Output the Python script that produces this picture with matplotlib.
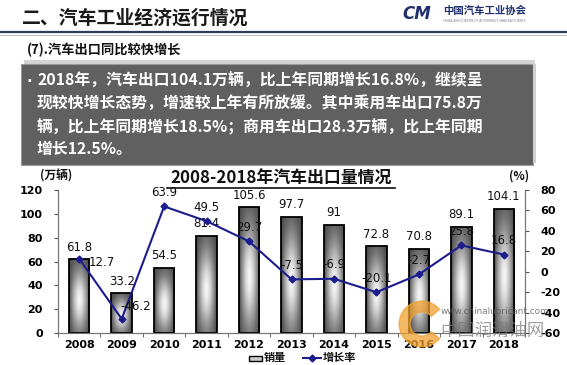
import numpy as np
import matplotlib
matplotlib.use("Agg")
import matplotlib.pyplot as plt
from matplotlib.patches import Rectangle, Wedge
from matplotlib.lines import Line2D

plt.rcParams["font.family"] = ["Noto Sans CJK SC", "DejaVu Sans"]

# ---------- DATA ----------
years = ["2008", "2009", "2010", "2011", "2012", "2013",
         "2014", "2015", "2016", "2017", "2018"]
exports = [61.8, 33.2, 54.5, 81.4, 105.6, 97.7, 91, 72.8, 70.8, 89.1, 104.1]
growth = [12.7, -46.2, 63.9, 49.5, 29.7, -7.5, -6.9, -20.1, -2.7, 25.8, 16.8]
left_ticks = [0, 20, 40, 60, 80, 100, 120]
right_ticks = [-60, -40, -20, 0, 20, 40, 60, 80]

# label offsets for the growth line (points, label centre)
growth_offsets = [(16, -3), (10, 9), (0, 10), (0, 10), (0, 10), (0, 10),
                  (0, 10), (0, 10), (0, 10), (0, 10), (0, 10)]

W, H = 567, 365


def fx(px):
    return px / W


def fy(py):
    return 1 - py / H


fig = plt.figure(figsize=(W / 100, H / 100), dpi=100)
fig.patch.set_facecolor("white")

# ---------- HEADER ----------
fig.text(fx(22), fy(18), "二、汽车工业经济运行情况", fontsize=13.6, fontweight="bold",
         color="#1a1a1a", va="center", ha="left")
fig.add_artist(Line2D([0, 1], [fy(32), fy(32)], color="#2e3d58", lw=1.6,
                      transform=fig.transFigure))
fig.add_artist(Line2D([0, 1], [fy(34.5), fy(34.5)], color="#b8c0cc", lw=0.8,
                      transform=fig.transFigure))
fig.text(fx(402), fy(14), "CM", fontsize=12, fontweight="bold", style="italic",
         color="#1f2f6e", va="center", ha="left", family="DejaVu Sans")
fig.text(fx(443), fy(11), "中国汽车工业协会", fontsize=7.5, fontweight="bold",
         color="#1f2f6e", va="center", ha="left")
fig.text(fx(443), fy(21), "CHINA ASSOCIATION OF AUTOMOBILE MANUFACTURERS",
         fontsize=2.2, color="#7a8090", va="center", ha="left", family="DejaVu Sans")

fig.text(fx(27), fy(50), "(7).汽车出口同比较快增长", fontsize=9.5, fontweight="bold",
         color="#111111", va="center", ha="left")

# ---------- TEXT BOX ----------
fig.add_artist(Rectangle((fx(24), fy(64)), fx(511), fy(60) - fy(64),
                         transform=fig.transFigure, color="#d4d4d4", lw=0))
fig.add_artist(Rectangle((fx(21), fy(165)), fx(512), fy(64) - fy(165),
                         transform=fig.transFigure, facecolor="#606060",
                         edgecolor="#9a9a9a", lw=0.8))
fig.add_artist(Rectangle((fx(533), fy(163)), fx(3), fy(64) - fy(163),
                         transform=fig.transFigure, color="#cfcfcf", lw=0))
lines = ["2018年，汽车出口104.1万辆，比上年同期增长16.8%，继续呈",
         "现较快增长态势，增速较上年有所放缓。其中乘用车出口75.8万",
         "辆，比上年同期增长18.5%；商用车出口28.3万辆，比上年同期",
         "增长12.5%。"]
line_y = [81, 104, 127, 149]
fig.text(fx(26), fy(81), "·", fontsize=11, fontweight="bold", color="white",
         va="center", ha="left", family="DejaVu Sans")
for txt, yy in zip(lines, line_y):
    fig.text(fx(37), fy(yy), txt, fontsize=11.4, fontweight="bold",
             color="white", va="center", ha="left")

# ---------- CHART ----------
ax = fig.add_axes([fx(58), fy(333), fx(525) - fx(58), fy(190) - fy(333)])
ax2 = ax.twinx()
x = np.arange(len(years))

bars = ax.bar(x, exports, width=0.48, facecolor="none", edgecolor="black",
              lw=1.3, zorder=3)

# gradient fill for bars
gx = np.linspace(0, 1, 60)
gy = np.linspace(0, 1, 120)
GX, GY = np.meshgrid(gx, gy)
hx = 1 - np.abs(2 * GX - 1) ** 1.6
vy = np.exp(-((GY - 0.45) / 0.42) ** 2)
grad = 0.28 + 0.68 * hx * vy
for b in bars:
    x0, w, h = b.get_x(), b.get_width(), b.get_height()
    im = ax.imshow(grad, cmap="gray", vmin=0, vmax=1, origin="lower",
                   extent=[x0, x0 + w, 0, h], aspect="auto", zorder=2,
                   interpolation="bilinear")
    im.set_clip_path(b)
ax.set_xlim(-0.5, len(years) - 0.5)
ax.set_ylim(0, 120)
ax2.set_ylim(-60, 80)

for xi, v in zip(x, exports):
    ax.annotate(f"{v:g}", (xi, v), xytext=(0, 4), textcoords="offset points",
                ha="center", va="bottom", fontsize=8.5, color="#111111",
                family="DejaVu Sans")

ax2.plot(x, growth, color="#1c1c8c", lw=1.5, marker="D", markersize=3.5,
         zorder=5)
for xi, v, off in zip(x, growth, growth_offsets):
    ax2.annotate(f"{v:g}", (xi, v), xytext=off, textcoords="offset points",
                 ha="center", va="center", fontsize=8.5, color="#111111",
                 family="DejaVu Sans", zorder=6)

ax.set_xticks(x)
ax.set_xticklabels(years, fontsize=8, fontweight="bold", family="DejaVu Sans")
ax.set_xticks(np.arange(-0.5, len(years), 1), minor=True)
ax.tick_params(axis="x", which="major", length=0, pad=5)
ax.tick_params(axis="x", which="minor", length=3, color="#555555")
ax.set_yticks(left_ticks)
ax.set_yticklabels([str(t) for t in left_ticks], fontsize=8, fontweight="bold",
                   family="DejaVu Sans")
ax.tick_params(axis="y", length=3, color="#555555", pad=8)
ax2.set_yticks(right_ticks)
ax2.set_yticklabels([str(t) for t in right_ticks], fontsize=8, fontweight="bold",
                    family="DejaVu Sans")
ax2.tick_params(axis="y", length=3, color="#555555", pad=8)

for a in (ax, ax2):
    a.spines["top"].set_visible(False)
    for s in ("left", "right", "bottom"):
        a.spines[s].set_color("#777777")
        a.spines[s].set_linewidth(0.8)
ax.patch.set_alpha(0)

fig.text(fx(40), fy(176), "(万辆)", fontsize=8.5, fontweight="bold",
         color="#111111", va="center", ha="left")
fig.text(fx(509), fy(176), "(%)", fontsize=8.5, fontweight="bold",
         color="#111111", va="center", ha="left")

fig.text(fx(281), fy(179), "2008-2018年汽车出口量情况", fontsize=12.2,
         fontweight="bold", color="#111111", va="center", ha="center")
fig.add_artist(Line2D([fx(167), fx(395)], [fy(188), fy(188)], color="#111111",
                      lw=1.2, transform=fig.transFigure))

# ---------- LEGEND ----------
fig.add_artist(Rectangle((fx(249), fy(361)), fx(13), fy(356) - fy(361),
                         transform=fig.transFigure, facecolor="#cccccc",
                         edgecolor="black", lw=1))
fig.text(fx(264), fy(358), "销量", fontsize=8, fontweight="bold",
         color="#111111", va="center", ha="left")
fig.add_artist(Line2D([fx(303), fx(321)], [fy(358), fy(358)], color="#1c1c8c",
                      lw=1.5, transform=fig.transFigure))
fig.add_artist(Line2D([fx(312)], [fy(358)], color="#1c1c8c", lw=0,
                      marker="D", markersize=3.5, transform=fig.transFigure))
fig.text(fx(323), fy(358), "增长率", fontsize=8, fontweight="bold",
         color="#111111", va="center", ha="left")

# ---------- WATERMARK ----------
wax = fig.add_axes([fx(398), fy(348), fx(48), fy(300) - fy(348)])
wax.set_xlim(-1, 1)
wax.set_ylim(-1, 1)
wax.set_aspect("equal")
wax.axis("off")
wax.add_patch(Wedge((0, 0), 0.95, 40, 320, width=0.45, color="#f0a030",
                    alpha=0.75))
fig.text(fx(441), fy(312), "www.chinalubricant.com", fontsize=6.4,
         color="#555555", alpha=0.75, va="center", ha="left",
         family="DejaVu Sans")
fig.text(fx(440), fy(331), "中国润滑油网", fontsize=12.5, color="#777777",
         alpha=0.7, va="center", ha="left")

fig.savefig("out.png", dpi=100)
